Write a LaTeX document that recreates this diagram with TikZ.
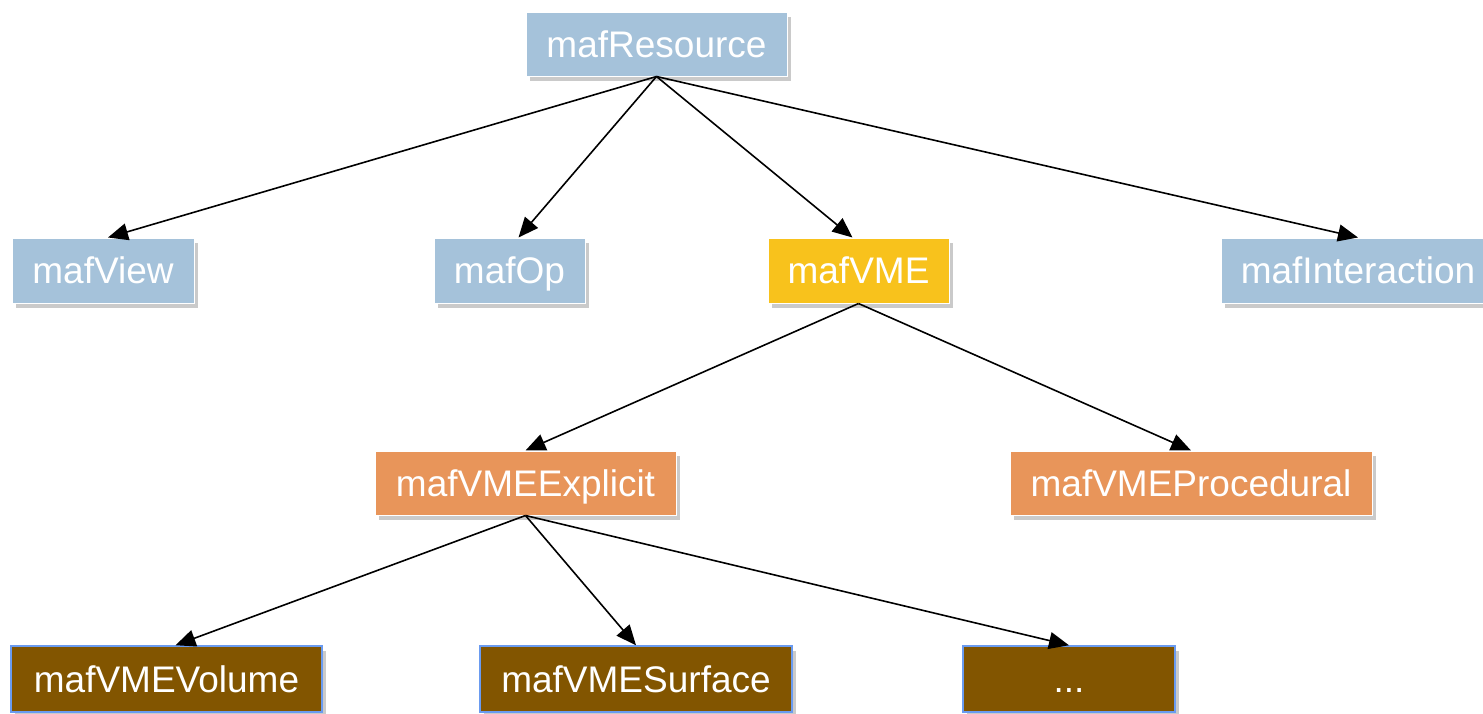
\documentclass[tikz,border=0pt]{standalone}
\usepackage{fontspec}
\setmainfont{Liberation Sans}
\usetikzlibrary{shadows,arrows.meta}
\definecolor{lblue}{HTML}{A5C2DA}
\definecolor{vmeyellow}{HTML}{F8C21C}
\definecolor{vmeorange}{HTML}{E8955A}
\definecolor{vmebrown}{HTML}{825500}
\definecolor{brownedge}{HTML}{6A9BF0}
\tikzset{
  box/.style={rectangle, inner sep=0pt, text=white, font=\fontsize{37}{44}\selectfont,
    text height=26pt, text depth=0pt,
    draw=white, line width=1pt,
    drop shadow={shadow xshift=4pt, shadow yshift=-5pt, opacity=0.35, fill=black!60}},
  bluebox/.style={box, fill=lblue},
  yellowbox/.style={box, fill=vmeyellow},
  orangebox/.style={box, fill=vmeorange},
  brownbox/.style={box, fill=vmebrown, draw=brownedge, line width=1.5pt},
  arr/.style={-{Triangle[length=20pt,width=17pt]}, line width=1.6pt, black}
}
\begin{document}
\begin{tikzpicture}[x=1pt,y=-1pt]
\useasboundingbox (0,0) rectangle (1483,713);
\node[bluebox, minimum width=261pt, minimum height=64pt] (res) at (656.5,44) {mafResource};
\node[bluebox, minimum width=182pt, minimum height=65pt] (view) at (103,270.5) {mafView};
\node[bluebox, minimum width=151pt, minimum height=65pt] (op) at (509.5,270.5) {mafOp};
\node[yellowbox, minimum width=181pt, minimum height=65pt] (vme) at (858.5,270.5) {mafVME};
\node[bluebox, minimum width=274pt, minimum height=65pt] (inter) at (1358,270.5) {mafInteraction};
\node[orangebox, minimum width=301pt, minimum height=64pt] (expl) at (525.5,483) {mafVMEExplicit};
\node[orangebox, minimum width=362pt, minimum height=64pt] (proc) at (1191,483) {mafVMEProcedural};
\node[brownbox, minimum width=311pt, minimum height=66pt] (vol) at (166.5,679) {mafVMEVolume};
\node[brownbox, minimum width=312pt, minimum height=66pt] (surf) at (636,679) {mafVMESurface};
\node[brownbox, minimum width=212pt, minimum height=66pt] (dots) at (1069,679) {...};
\draw[arr] (res.south) -- ([xshift=5pt]view.north);
\draw[arr] (res.south) -- ([xshift=9pt]op.north);
\draw[arr] (res.south) -- ([xshift=-6pt]vme.north);
\draw[arr] (res.south) -- (inter.north);
\draw[arr] (vme.south) -- (expl.north);
\draw[arr] (vme.south) -- (proc.north);
\draw[arr] (expl.south) -- ([xshift=9pt]vol.north);
\draw[arr] (expl.south) -- (surf.north);
\draw[arr] (expl.south) -- (dots.north);
\end{tikzpicture}
\end{document}
